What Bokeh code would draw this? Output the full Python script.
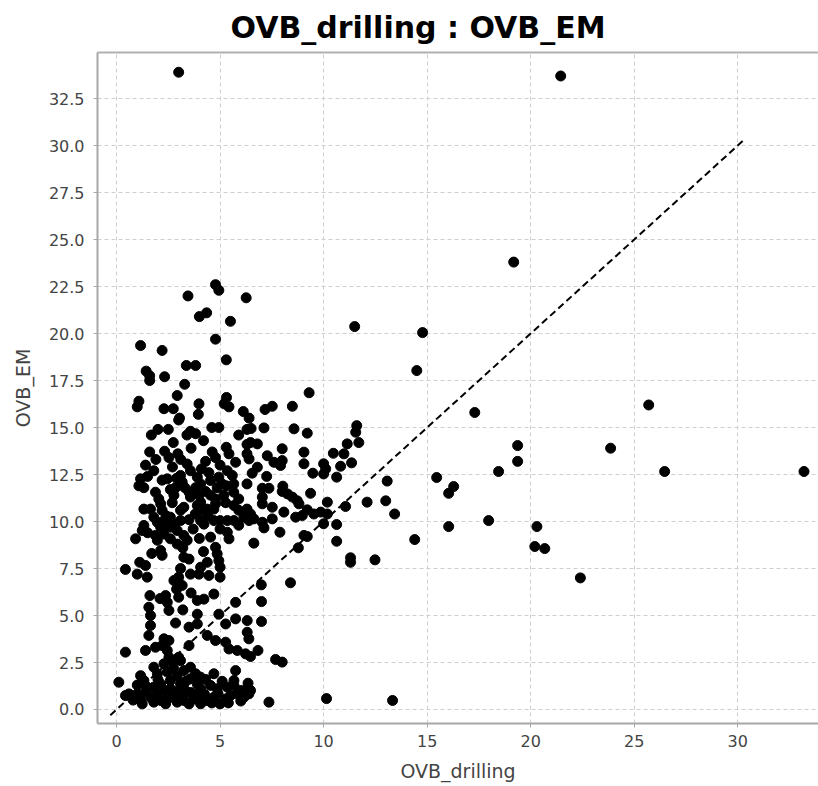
from bokeh.plotting import figure
from bokeh.models import Range1d, FixedTicker, NumeralTickFormatter, LinearAxis
from bokeh.embed import file_html
from bokeh.resources import INLINE

points = [
    (3.0, 33.9), (21.45, 33.7), (19.18, 23.8), (25.7, 16.2), (23.86, 13.9), (26.47, 12.66), (33.2, 12.66),
    (22.4, 7.0), (20.68, 8.56), (20.2, 8.67), (20.3, 9.73), (17.97, 10.05), (18.45, 12.66), (19.37, 13.2),
    (19.37, 14.04), (17.3, 15.8), (15.46, 12.34), (16.28, 11.86), (16.04, 11.5), (16.04, 9.73), (14.4, 9.04),
    (14.78, 20.05), (14.5, 18.03), (11.5, 20.37), (13.33, 0.48), (10.14, 0.58),
    (4.78, 22.6), (4.94, 22.3), (3.45, 22.0), (6.26, 21.9), (4.0, 20.9), (4.35, 21.1), (5.5, 20.65), (4.78, 19.7),
    (1.16, 19.36), (2.2, 19.1), (5.3, 18.6), (3.37, 18.3), (3.82, 18.3), (1.43, 18.0), (1.6, 17.75), (1.6, 17.5),
    (2.32, 17.7), (3.29, 17.3), (2.93, 16.7), (1.08, 16.4), (1.0, 16.1), (2.29, 16.0), (2.74, 16.0), (3.04, 15.5),
    (3.98, 16.26), (3.95, 15.7), (5.31, 16.6), (5.2, 16.26), (5.43, 16.1), (6.12, 15.85), (6.4, 15.5), (4.6, 15.0),
    (4.94, 15.0), (3.57, 14.8), (6.3, 14.9),
    (3.0, 15.4), (1.68, 14.6), (3.4, 14.6), (3.82, 14.67), (2.74, 14.2), (6.3, 14.1), (1.6, 13.7), (2.32, 13.74),
    (2.53, 13.4), (2.96, 13.6), (3.1, 13.3), (4.62, 13.7), (4.78, 13.4), (5.3, 13.95), (5.43, 13.6), (5.75, 13.15),
    (6.3, 13.6), (1.4, 13.0), (1.8, 12.7), (3.41, 13.06), (3.57, 12.7), (1.16, 12.27), (1.08, 11.9), (1.32, 11.8),
    (2.2, 12.2), (2.45, 12.27), (3.09, 12.45), (3.17, 12.1), (2.85, 11.8), (3.9, 12.36), (4.06, 12.0), (3.82, 11.8),
    (4.46, 12.6), (4.54, 12.18), (4.94, 12.36), (5.1, 12.0), (4.86, 11.8), (5.35, 12.7), (5.59, 12.45), (5.66, 12.0),
    (5.66, 11.56), (6.3, 12.0), (1.88, 11.56), (2.04, 11.2), (2.6, 11.7), (2.77, 11.4), (2.69, 11.0), (3.5, 11.56),
    (3.57, 11.3), (3.98, 11.4), (4.06, 11.03), (4.54, 11.4), (4.78, 11.2), (4.78, 10.94), (5.18, 11.4), (5.27, 11.0),
    (5.67, 10.85), (1.32, 10.66), (1.64, 10.66), (2.13, 10.94), (2.2, 10.6), (3.09, 10.6), (3.25, 10.76), (3.9, 10.85),
    (4.06, 10.6), (4.38, 10.66), (4.7, 10.66), (6.3, 10.66), (1.8, 10.23), (1.97, 9.96), (2.29, 10.05), (2.6, 10.23),
    (2.77, 9.86), (3.09, 10.05), (4.06, 10.05), (4.22, 9.86), (4.7, 10.05), (5.0, 10.05), (5.35, 10.05), (5.67, 10.05),
    (6.15, 10.23), (6.4, 10.05), (1.32, 9.79), (1.24, 9.52), (2.13, 9.7), (2.29, 9.33), (2.93, 9.52), (3.25, 9.26),
    (3.41, 9.0), (5.35, 9.43), (5.43, 9.08), (0.92, 9.08), (1.88, 9.26), (1.97, 9.0), (4.54, 9.17), (2.6, 9.08),
    (2.93, 8.8), (4.78, 8.63), (4.86, 8.28), (2.13, 8.46), (2.2, 8.2), (3.25, 8.1), (3.5, 8.0), (1.12, 7.83),
    (1.4, 7.66), (0.43, 7.45), (3.09, 7.5), (4.06, 7.57), (4.38, 7.83), (4.94, 7.92), (5.0, 7.57),
    (1.0, 7.2), (1.48, 7.04), (3.0, 7.04), (2.77, 6.86), (3.57, 7.2), (3.98, 7.2), (4.46, 7.13), (5.0, 7.04),
    (3.17, 6.6), (3.0, 5.97), (1.61, 6.06), (1.56, 5.44), (1.64, 5.0), (2.37, 6.06), (2.45, 5.7), (2.53, 5.27),
    (3.9, 5.8), (4.22, 5.87), (4.7, 6.14), (5.75, 5.7), (3.9, 5.07), (3.9, 4.55), (3.5, 4.38), (4.94, 5.07),
    (5.27, 4.55), (5.75, 4.82), (6.31, 4.73), (1.64, 4.47), (1.56, 3.94), (2.29, 3.76), (2.53, 3.67), (2.2, 3.4),
    (1.88, 3.31), (4.38, 3.94), (4.78, 3.67), (5.27, 3.58), (0.43, 3.05), (1.4, 3.14), (2.45, 3.14), (2.53, 2.78),
    (2.69, 2.6), (3.5, 3.4), (5.43, 3.22), (5.83, 3.14), (6.23, 2.96), (6.31, 4.11), (6.39, 3.76), (1.8, 2.25),
    (1.97, 1.9), (1.16, 1.8), (1.32, 1.54), (2.29, 2.43), (2.45, 1.99), (2.6, 1.54), (3.09, 2.6), (3.25, 2.07),
    (2.93, 1.8), (3.57, 2.25), (3.82, 1.9), (4.06, 1.72), (3.57, 1.63), (5.75, 2.07), (0.11, 1.45), (1.48, 1.19),
    (1.8, 1.19), (2.13, 1.36), (2.29, 1.01), (2.6, 1.1), (3.09, 1.36), (3.25, 1.1), (3.41, 0.92), (4.06, 1.1),
    (3.9, 0.74), (4.54, 1.28), (4.86, 1.1), (5.35, 1.19), (5.67, 1.28), (5.67, 1.54), (6.0, 1.01), (6.3, 1.1),
    (0.43, 0.74), (0.6, 0.83), (1.0, 0.83), (1.16, 0.48), (1.24, 0.3), (1.64, 0.65), (1.8, 0.39), (2.13, 0.48),
    (2.37, 0.3), (2.6, 0.65), (2.93, 0.39), (3.25, 0.48), (3.5, 0.3), (3.73, 0.56), (4.06, 0.3), (4.38, 0.48),
    (4.7, 0.65), (5.0, 0.3), (5.27, 0.56), (5.5, 0.74), (5.83, 0.83), (6.15, 0.65), (6.39, 0.83), (3.0, 2.78),
    (6.99, 6.63), (8.4, 6.74), (7.0, 5.74), (7.0, 4.68), (6.83, 3.14), (6.47, 2.82), (7.68, 2.66), (8.0, 2.52),
    (7.36, 0.39), (6.47, 1.01),
    (9.3, 16.85), (7.17, 15.96), (7.52, 16.13), (8.49, 16.13), (6.5, 14.95), (7.12, 14.98), (8.57, 14.93), (9.21, 14.7),
    (11.6, 15.1), (11.55, 14.75), (11.7, 14.2), (11.14, 14.13), (6.47, 14.2), (6.8, 14.13), (8.0, 13.87), (6.4, 13.33),
    (7.28, 13.5), (9.05, 13.69), (10.47, 13.63), (10.98, 13.6), (7.6, 13.15), (8.0, 13.24), (7.92, 12.98), (9.05, 13.07),
    (10.0, 13.07), (10.1, 12.8), (10.82, 12.94), (11.35, 13.12), (6.8, 12.89), (6.55, 12.57), (7.25, 12.4), (9.48, 12.57),
    (10.0, 12.53), (10.63, 12.36), (13.07, 12.15), (7.04, 11.77), (7.36, 11.77), (8.03, 11.88), (8.0, 11.6), (9.37, 11.5),
    (7.04, 11.3), (7.04, 10.94), (8.25, 11.47), (8.49, 11.3), (8.73, 11.1), (8.81, 10.94), (10.18, 11.03), (11.06, 10.8),
    (12.1, 11.03), (13.0, 11.1), (13.43, 10.4), (6.47, 10.4), (6.63, 10.14), (7.04, 9.96), (7.12, 9.66), (7.52, 10.76),
    (7.52, 10.14), (8.08, 10.5), (8.65, 10.23), (8.97, 10.32), (9.21, 10.62), (9.53, 10.4), (9.86, 10.5), (10.18, 10.4),
    (10.0, 9.88), (10.63, 9.84), (7.89, 9.43), (6.63, 8.85), (9.05, 9.26), (9.21, 9.2), (8.78, 8.6), (10.63, 8.95),
    (11.3, 8.07), (11.3, 7.83), (12.48, 7.96),
    (2.0, 14.9), (2.5, 14.9), (4.2, 14.3), (5.9, 14.6), (3.6, 13.9), (4.3, 13.2), (1.9, 13.3), (2.7, 12.9),
    (4.1, 12.8), (5.0, 13.0), (1.5, 12.4), (2.9, 12.3), (3.3, 11.8), (4.3, 11.6), (5.3, 11.9), (5.9, 11.2),
    (2.4, 10.3), (3.5, 10.1), (3.8, 10.4), (4.4, 10.3), (5.9, 10.6), (1.5, 9.4), (2.6, 9.7), (3.7, 9.6),
    (4.0, 9.1), (5.0, 9.6), (5.9, 9.8), (3.2, 8.6), (4.2, 8.4), (1.7, 8.3),
    (1.4, 0.95), (1.95, 0.8), (2.45, 0.55), (2.8, 0.95), (3.1, 0.7), (3.6, 0.9), (4.25, 0.8), (4.6, 0.35),
    (4.9, 0.85), (5.4, 0.35), (6.0, 0.45), (2.0, 1.6), (2.75, 2.2), (3.35, 1.5), (3.9, 1.35), (4.3, 1.6),
    (4.7, 1.9), (5.1, 1.5), (6.35, 1.4), (1.0, 1.3), (0.8, 0.5),
    (2.85, 4.6), (3.2, 5.3), (2.1, 5.9), (2.9, 6.4), (3.6, 6.2),
]
drilling = [pt[0] for pt in points]
em = [pt[1] for pt in points]

diag = [-0.3, 30.3]
x_ticks = [0, 5, 10, 15, 20, 25, 30]
y_ticks = [0, 2.5, 5, 7.5, 10, 12.5, 15, 17.5, 20, 22.5, 25, 27.5, 30, 32.5]

p = figure(width=818, height=786, output_backend="svg", toolbar_location=None,
           x_range=Range1d(-0.92, 33.9), y_range=Range1d(-0.745, 34.95),
           title="OVB_drilling : OVB_EM",
           x_axis_label="OVB_drilling", y_axis_label="OVB_EM",
           min_border_left=97, min_border_right=0, min_border_top=52, min_border_bottom=63)

p.title.text_font = "DejaVu Sans"
p.title.text_font_style = "bold"
p.title.text_font_size = "30px"
p.title.text_color = "black"
p.title.align = "left"
p.title.offset = 133
p.title.standoff = 15

p.outline_line_color = None
p.background_fill_color = "white"
p.border_fill_color = "white"

xax = p.below[0]
yax = p.left[0]
for ax in (xax, yax):
    ax.axis_line_color = "#a8a8a8"
    ax.axis_line_width = 2
    ax.major_tick_line_color = "#a8a8a8"
    ax.major_tick_out = 4
    ax.major_tick_in = 0
    ax.minor_tick_line_color = None
    ax.major_label_text_font = "DejaVu Sans"
    ax.major_label_text_font_size = "16px"
    ax.major_label_text_color = "#444444"
    ax.axis_label_text_font = "DejaVu Sans"
    ax.axis_label_text_font_size = "19px"
    ax.axis_label_text_font_style = "normal"
    ax.axis_label_text_color = "#444444"

xax.ticker = FixedTicker(ticks=x_ticks)
yax.ticker = FixedTicker(ticks=y_ticks)
yax.formatter = NumeralTickFormatter(format="0.0")
xax.major_label_standoff = 7
yax.major_label_standoff = 9
xax.axis_label_standoff = 10
yax.axis_label_standoff = 12

p.grid.grid_line_color = "#cfcfcf"
p.grid.grid_line_dash = "4 3"
p.grid.grid_line_width = 1
p.xgrid.ticker = FixedTicker(ticks=x_ticks)
p.ygrid.ticker = FixedTicker(ticks=y_ticks)

# top frame border only (no ticks or labels)
top_axis = LinearAxis(ticker=FixedTicker(ticks=[]), axis_line_color="#b0b0b0", axis_line_width=2,
                      major_tick_line_color=None, minor_tick_line_color=None,
                      major_label_text_alpha=0, major_tick_out=0, major_label_standoff=0)
p.add_layout(top_axis, "above")

p.line(diag, diag, line_color="black", line_width=2, line_dash="7 4")
p.scatter(drilling, em, size=10, color="black")

open("out.html", "w").write(file_html(p, INLINE))
